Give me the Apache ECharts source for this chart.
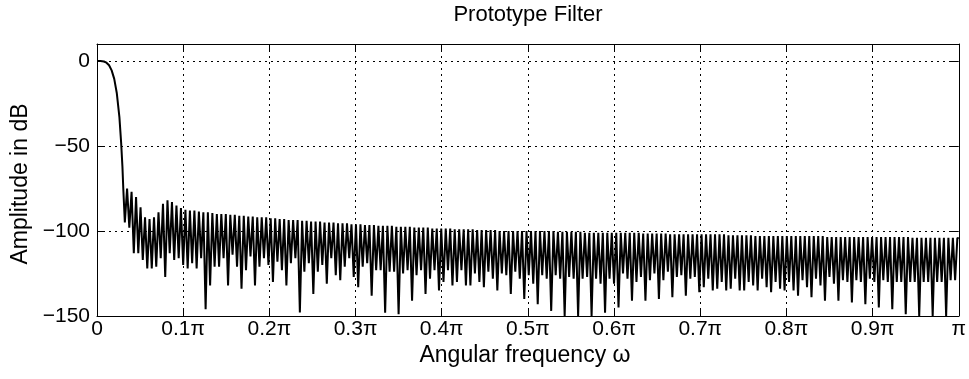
<!DOCTYPE html>
<html><head><meta charset="utf-8">
<script src="https://cdn.jsdelivr.net/npm/echarts@6/dist/echarts.min.js"></script>
<style>html,body{margin:0;padding:0;background:#fff}#c{width:969px;height:379px}</style>
</head><body><div id="c"></div>
<script>
const titleText = 'Prototype Filter';
const xAxisTitle = 'Angular frequency \u03c9';
const yAxisTitle = 'Amplitude in dB';
const xTickLabels = ['0','0.1\u03c0','0.2\u03c0','0.3\u03c0','0.4\u03c0','0.5\u03c0','0.6\u03c0','0.7\u03c0','0.8\u03c0','0.9\u03c0','\u03c0'];
const yTickValues = [-150,-100,-50,0];

// passband and transition band (omega in units of pi, amplitude in dB)
const transitionOmega = [0, 0.004, 0.008, 0.011, 0.014, 0.017, 0.020, 0.023, 0.026, 0.028, 0.0295, 0.0305];
const transitionDb    = [0, 0, -0.3, -1, -2.5, -5.5, -10.5, -19, -33, -48, -62, -75];

// stopband: one null and one sidelobe peak per lobe, lobes on a uniform grid
const firstNullOmega = 0.0323;
const lobeSpacing = 0.005208;
const nullDb = [
 -95,-98,-113,-113,-117,-122,-122,-121,-116,-127,
 -113,-117,-116,-120,-122,-119,-122,-116,-146,-132,
 -121,-121,-116,-132,-114,-121,-134,-123,-115,-132,
 -121,-116,-120,-130,-118,-123,-132,-119,-116,-148,
 -124,-119,-137,-124,-120,-131,-116,-126,-129,-121,
 -116,-127,-133,-121,-119,-138,-123,-123,-148,-124,
 -124,-149,-125,-123,-141,-126,-123,-137,-128,-123,
 -135,-130,-123,-132,-130,-123,-132,-132,-125,-130,
 -133,-124,-128,-135,-125,-126,-137,-124,-128,-140,
 -126,-131,-143,-126,-128,-147,-126,-128,-150,-127,
 -128,-150,-128,-127,-150,-128,-131,-148,-128,-131,
 -145,-125,-128,-141,-130,-127,-141,-129,-125,-140,
 -129,-124,-139,-127,-126,-138,-128,-127,-136,-133,
 -128,-135,-134,-130,-135,-134,-128,-135,-135,-130,
 -132,-135,-128,-133,-136,-130,-134,-135,-130,-135,
 -138,-129,-133,-139,-128,-132,-141,-127,-131,-141,
 -129,-130,-142,-129,-130,-143,-128,-130,-145,-129,
 -130,-146,-130,-130,-149,-130,-130,-150,-130,-130,
 -150,-130,-130,-150,-129,-129
];
const peakDb = [
 -75,-77,-80,-86,-92,-93,-92,-89,-84,-82,-83,-85,-86.5,-87.5,
 -88,-88,-88.5,-89,-89,-89.5,-90,-90,-90,-90.5,-90.5,-91,-91,-91.5,-91.5,-92,-92,-92,
 -92.5,-92.5,-93,-93,-93.5,-93.5,-93.5,-94,-94,-94.5,-94.5,-94.5,-95,-95,-95,-95.5,-95.5,-95.5,-96,-96,
 -96,-96.5,-96.5,-96.5,-97,-97,-97,-97,-97.5,-97.5,-97.5,-97.5,-98,-98,-98,-98,-98.5,-98.5,-98.5,
 -98.5,-98.5,-99,-99,-99,-99,-99,-99.5,-99.5,-99.5,-99.5,-99.5,-100,-100,-100,-100,-100,-100,-100,
 -100,-100,-100,-100,-100,-100,-100.5,-100.5,-100.5,-100.5,-100.5,-100.5,-101,-101,-101,-101,-101,-101,-101,
 -101,-101,-101,-101,-101,-101,-101.5,-101.5,-101.5,-101.5,-101.5,-101.5,-102,-102,-102,-102,-102,-102,-102,
 -102,-102,-102,-102,-102,-102,-102.5,-102.5,-102.5,-102.5,-102.5,-102.5,-103,-103,-103,-103,-103,-103,-103,
 -103,-103,-103,-103,-103,-103,-103,-103,-103,-103.5,-103.5,-103.5,-103.5,-103.5,-103.5,-103.5,-103.5,-103.5,-103.5,
 -103.5,-103.5,-103.5,-103.5,-103.5,-103.5,-103.5,-103.5,-103.5,-104,-104,-104,-104,-104,-104,-104,-104,-104,-104,-104
];
const endOmega = 1;
const endDb = -104.5;

const FONT = '"Liberation Sans", Arial, Helvetica, sans-serif';

const data = transitionOmega.map((w, i) => [w, transitionDb[i]]);
for (let k = 0; k < nullDb.length; k++) {
  data.push([firstNullOmega + k * lobeSpacing, nullDb[k]]);
  data.push([firstNullOmega + (k + 0.5) * lobeSpacing, peakDb[k]]);
}
data.push([endOmega, endDb]);

const fmtX = v => xTickLabels[Math.round(v * 10)] || '';
const fmtY = v => yTickValues.includes(v) ? (v === 0 ? '0' : '\u2212' + Math.abs(v)) : '';

const axisLineStyle = { show: true, onZero: false, lineStyle: { color: '#000', width: 1 } };
const tickStyle = { show: true, inside: true, length: 8, lineStyle: { color: '#000', width: 1 } };
const gridLine = { show: true, lineStyle: { color: '#000', width: 1, type: [2, 4] } };

const chart = echarts.init(document.getElementById('c'), null, { renderer: 'canvas' });
chart.setOption({
  animation: false,
  backgroundColor: '#fff',
  grid: { left: 97, right: 6, top: 44, bottom: 63, containLabel: false },
  xAxis: [
    { type: 'value', min: 0, max: 1, interval: 0.1, position: 'bottom',
      axisLine: axisLineStyle, axisTick: tickStyle,
      axisLabel: { formatter: fmtX, color: '#000', fontSize: 21, fontFamily: FONT, margin: 3 },
      splitLine: gridLine },
    { type: 'value', min: 0, max: 1, interval: 0.1, position: 'top',
      axisLine: axisLineStyle, axisTick: tickStyle, axisLabel: { show: false }, splitLine: { show: false } }
  ],
  yAxis: [
    { type: 'value', min: -150, max: 10, interval: 50, position: 'left',
      axisLine: axisLineStyle, axisTick: tickStyle,
      axisLabel: { formatter: fmtY, color: '#000', fontSize: 21, fontFamily: FONT, margin: 7 },
      splitLine: gridLine },
    { type: 'value', min: -150, max: 10, interval: 50, position: 'right',
      axisLine: axisLineStyle, axisTick: tickStyle, axisLabel: { show: false }, splitLine: { show: false } }
  ],
  graphic: [
    { type: 'text', x: 528, y: 15, style: { text: titleText, font: '22px ' + FONT, fill: '#000',
      textAlign: 'center', textVerticalAlign: 'middle', align: 'center', verticalAlign: 'middle' } },
    { type: 'text', x: 525, y: 356, style: { text: xAxisTitle, font: '23px ' + FONT, fill: '#000',
      textAlign: 'center', textVerticalAlign: 'middle', align: 'center', verticalAlign: 'middle' } },
    { type: 'text', x: 21, y: 184, rotation: Math.PI / 2, style: { text: yAxisTitle, font: '23px ' + FONT, fill: '#000',
      textAlign: 'center', textVerticalAlign: 'middle', align: 'center', verticalAlign: 'middle' } }
  ],
  series: [{
    type: 'line', data: data, showSymbol: false, symbol: 'none', clip: true,
    lineStyle: { color: '#000', width: 2 }, silent: true
  }]
});
</script>
</body></html>
